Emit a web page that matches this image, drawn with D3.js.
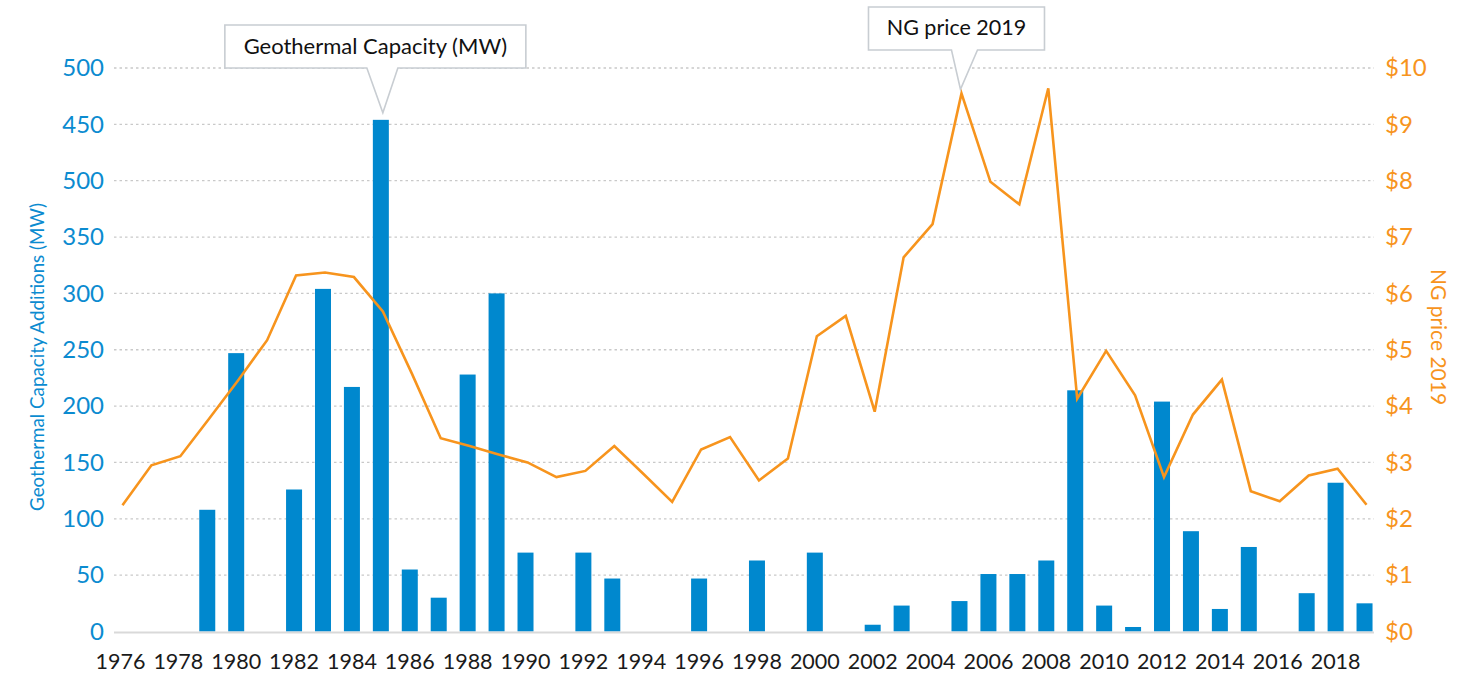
<!DOCTYPE html>
<html>
<head>
<meta charset="utf-8">
<script src="https://cdn.jsdelivr.net/npm/d3@7"></script>
<style>
  html, body { margin: 0; padding: 0; background: #fff; }
  svg { display: block; font-family: Lato, "Open Sans", sans-serif; }
</style>
</head>
<body>
<svg id="chart" width="1471" height="683"></svg>
<script>
// Years on the category axis
const years = [1976, 1977, 1978, 1979, 1980, 1981, 1982, 1983, 1984, 1985,
               1986, 1987, 1988, 1989, 1990, 1991, 1992, 1993, 1994, 1995,
               1996, 1997, 1998, 1999, 2000, 2001, 2002, 2003, 2004, 2005,
               2006, 2007, 2008, 2009, 2010, 2011, 2012, 2013, 2014, 2015,
               2016, 2017, 2018, 2019];

// Geothermal capacity additions per year (MW)
const capacity = [0, 0, 0, 108, 247, 0, 126, 304, 217, 454,
                  55, 30, 228, 300, 70, 0, 70, 47, 0, 0,
                  47, 0, 63, 0, 70, 0, 6, 23, 0, 27,
                  51, 51, 63, 214, 23, 4, 204, 89, 20, 75,
                  0, 34, 132, 25];

// Natural gas price in 2019 dollars
const ngPrice = [2.24, 2.95, 3.11, 3.78, 4.46, 5.17, 6.32, 6.37, 6.29, 5.68,
                 4.58, 3.43, 3.29, 3.14, 3.00, 2.74, 2.85, 3.29, 2.80, 2.30,
                 3.23, 3.45, 2.68, 3.07, 5.24, 5.60, 3.90, 6.64, 7.23, 9.55,
                 7.98, 7.58, 9.64, 4.13, 4.98, 4.19, 2.74, 3.85, 4.47, 2.49,
                 2.31, 2.77, 2.89, 2.25];

// Axis ticks and their labels
const capTicks = [0, 50, 100, 150, 200, 250, 300, 350, 400, 450, 500];
const capTickLabels = ["0", "50", "100", "150", "200", "250", "300", "350", "500", "450", "500"];
const priceTicks = [0, 1, 2, 3, 4, 5, 6, 7, 8, 9, 10];
const priceTickLabels = ["$0", "$1", "$2", "$3", "$4", "$5", "$6", "$7", "$8", "$9", "$10"];
const yearLabels = [1976, 1978, 1980, 1982, 1984, 1986, 1988, 1990, 1992, 1994, 1996,
                    1998, 2000, 2002, 2004, 2006, 2008, 2010, 2012, 2014, 2016, 2018];

const capTitle = "Geothermal Capacity Additions (MW)";
const priceTitle = "NG price 2019";
const capCallout = "Geothermal Capacity (MW)";
const priceCallout = "NG price 2019";

const BLUE = "#0088ce";
const BLUE_TEXT = "#0b8bd0";
const ORANGE = "#f7941d";
const FONT = "Lato, 'Open Sans', sans-serif";

const svg = d3.select("#chart");

const plot = { left: 114, right: 1374, top: 68, bottom: 631.5 };

const x = d3.scaleBand()
  .domain(years)
  .range([106, 1379])
  .paddingInner(0.447)
  .paddingOuter(0.2235);

const yCap = d3.scaleLinear().domain([0, 500]).range([plot.bottom, plot.top]);
const yPrice = d3.scaleLinear().domain([0, 10]).range([plot.bottom, plot.top]);

const cx = d => x(d) + x.bandwidth() / 2;

// Dotted gridlines
svg.append("g")
  .selectAll("line")
  .data(capTicks.filter(t => t > 0))
  .join("line")
  .attr("x1", plot.left).attr("x2", plot.right)
  .attr("y1", d => yCap(d)).attr("y2", d => yCap(d))
  .attr("stroke", "#c9c9c9")
  .attr("stroke-width", 1.3)
  .attr("stroke-dasharray", "2.5,3");

// Bars
svg.append("g")
  .selectAll("rect")
  .data(years.map((yr, i) => ({ yr, v: capacity[i] })).filter(d => d.v > 0))
  .join("rect")
  .attr("x", d => x(d.yr))
  .attr("width", x.bandwidth())
  .attr("y", d => yCap(d.v))
  .attr("height", d => yCap(0) - yCap(d.v))
  .attr("fill", BLUE);

// Baseline
svg.append("line")
  .attr("x1", plot.left).attr("x2", plot.right)
  .attr("y1", yCap(0) + 1).attr("y2", yCap(0) + 1)
  .attr("stroke", "#d9d9d9")
  .attr("stroke-width", 2);

// Price line
const line = d3.line()
  .x((d, i) => cx(years[i]) + 2)
  .y(d => yPrice(d));

svg.append("path")
  .datum(ngPrice)
  .attr("d", line)
  .attr("fill", "none")
  .attr("stroke", ORANGE)
  .attr("stroke-width", 2.6)
  .attr("stroke-linejoin", "miter");

// Left axis
const leftAxis = d3.axisLeft(yCap)
  .tickValues(capTicks)
  .tickFormat((d, i) => capTickLabels[i])
  .tickSize(0)
  .tickPadding(0);
const gLeft = svg.append("g")
  .attr("transform", `translate(104,0)`)
  .call(leftAxis);
gLeft.select(".domain").remove();
gLeft.selectAll("text")
  .attr("fill", BLUE_TEXT)
  .attr("font-size", 24)
  .attr("font-family", FONT);

// Right axis
const rightAxis = d3.axisRight(yPrice)
  .tickValues(priceTicks)
  .tickFormat((d, i) => priceTickLabels[i])
  .tickSize(0)
  .tickPadding(0);
const gRight = svg.append("g")
  .attr("transform", `translate(1385,0)`)
  .call(rightAxis);
gRight.select(".domain").remove();
gRight.selectAll("text")
  .attr("fill", ORANGE)
  .attr("font-size", 24)
  .attr("font-family", FONT);

// Bottom axis (every other year)
const bottomAxis = d3.axisBottom(x)
  .tickValues(yearLabels)
  .tickSize(0)
  .tickPadding(0);
const gBottom = svg.append("g")
  .attr("transform", `translate(0,654)`)
  .call(bottomAxis);
gBottom.select(".domain").remove();
gBottom.selectAll("text")
  .attr("fill", "#1a1a1a")
  .attr("font-size", 21.5)
  .attr("font-family", FONT);

// Axis titles
svg.append("text")
  .attr("transform", `translate(44,357) rotate(-90)`)
  .attr("text-anchor", "middle")
  .attr("fill", BLUE_TEXT)
  .attr("font-size", 18.8)
  .text(capTitle);

svg.append("text")
  .attr("transform", `translate(1431,337) rotate(90)`)
  .attr("text-anchor", "middle")
  .attr("fill", ORANGE)
  .attr("font-size", 21)
  .text(priceTitle);

// Callout boxes with a pointer toward the highlighted mark
function callout(label, tipX, tipY, box, baseL, baseR, textY, size) {
  const g = svg.append("g");
  const l = box.left, r = box.left + box.width, t = box.top, b = box.top + box.height;
  const p = d3.path();
  p.moveTo(l, t);
  p.lineTo(r, t);
  p.lineTo(r, b);
  p.lineTo(tipX + baseR, b);
  p.lineTo(tipX, tipY);
  p.lineTo(tipX + baseL, b);
  p.lineTo(l, b);
  p.closePath();
  g.append("path")
    .attr("d", p.toString())
    .attr("fill", "#fff")
    .attr("stroke", "#c8cdd2")
    .attr("stroke-width", 1.6);
  g.append("text")
    .attr("x", l + box.width / 2)
    .attr("y", textY)
    .attr("text-anchor", "middle")
    .attr("fill", "#111")
    .attr("font-size", size)
    .text(label);
}

const peakCapIdx = capacity.indexOf(d3.max(capacity));
const capTipX = cx(years[peakCapIdx]) + 2;
callout(capCallout, capTipX, yCap(capacity[peakCapIdx]) - 7,
        { left: capTipX - 158, width: 301, top: 25, height: 43 }, -16, 15, 54, 22);

const priceIdx = years.indexOf(2005);
const priceTipX = cx(years[priceIdx]) + 1;
callout(priceCallout, priceTipX, yPrice(ngPrice[priceIdx]) - 4,
        { left: priceTipX - 92, width: 176, top: 7, height: 43 }, -9, 17, 35, 21.5);
</script>
</body>
</html>
